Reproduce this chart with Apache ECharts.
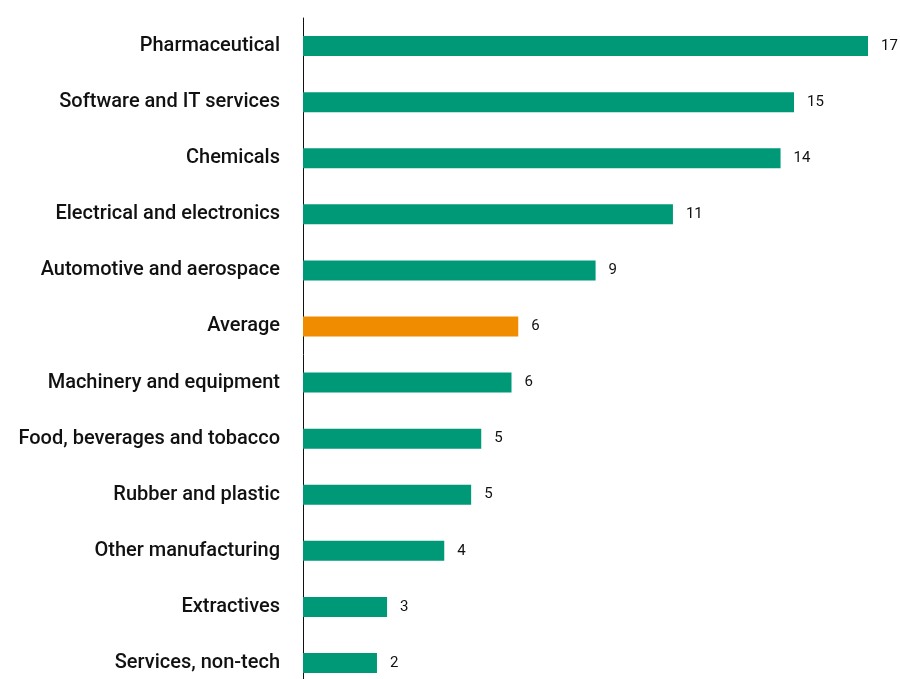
<!DOCTYPE html>
<html><head><meta charset="utf-8">
<script src="https://cdn.jsdelivr.net/npm/echarts@6/dist/echarts.min.js"></script>
<style>html,body{margin:0;padding:0;background:#fff;overflow:hidden}#c{width:900px;height:691px}</style>
</head><body><div id="c"></div>
<script>
const categories = ["Pharmaceutical","Software and IT services","Chemicals","Electrical and electronics","Automotive and aerospace","Average","Machinery and equipment","Food, beverages and tobacco","Rubber and plastic","Other manufacturing","Extractives","Services, non-tech"];
const values = [16.8,14.6,14.2,11.0,8.7,6.4,6.2,5.3,5.0,4.2,2.5,2.2];
const highlight = "Average";

const chart = echarts.init(document.getElementById('c'));
chart.setOption({
  animation:false,
  grid:{left:303,top:18,right:32,bottom:0,containLabel:false},
  xAxis:{type:'value',min:0,max:16.8,show:false},
  yAxis:{type:'category',inverse:true,data:categories,
    axisLine:{show:true,lineStyle:{color:'#111',width:1}},
    axisTick:{show:false},
    axisLabel:{margin:23,padding:[4,0,0,0],fontFamily:'Roboto,"Liberation Sans",Arial',fontSize:20,color:'#111',fontWeight:500}},
  series:[{type:'bar',barWidth:20,
    data:values.map((v,i)=>({value:v,itemStyle:{color:categories[i]===highlight?'#F08C00':'#009978'}})),
    label:{show:true,position:'right',distance:13,fontFamily:'Roboto,"Liberation Sans",Arial',fontSize:15,color:'#111',
      formatter:p=>Math.round(p.value)}}]
});
</script></body></html>
